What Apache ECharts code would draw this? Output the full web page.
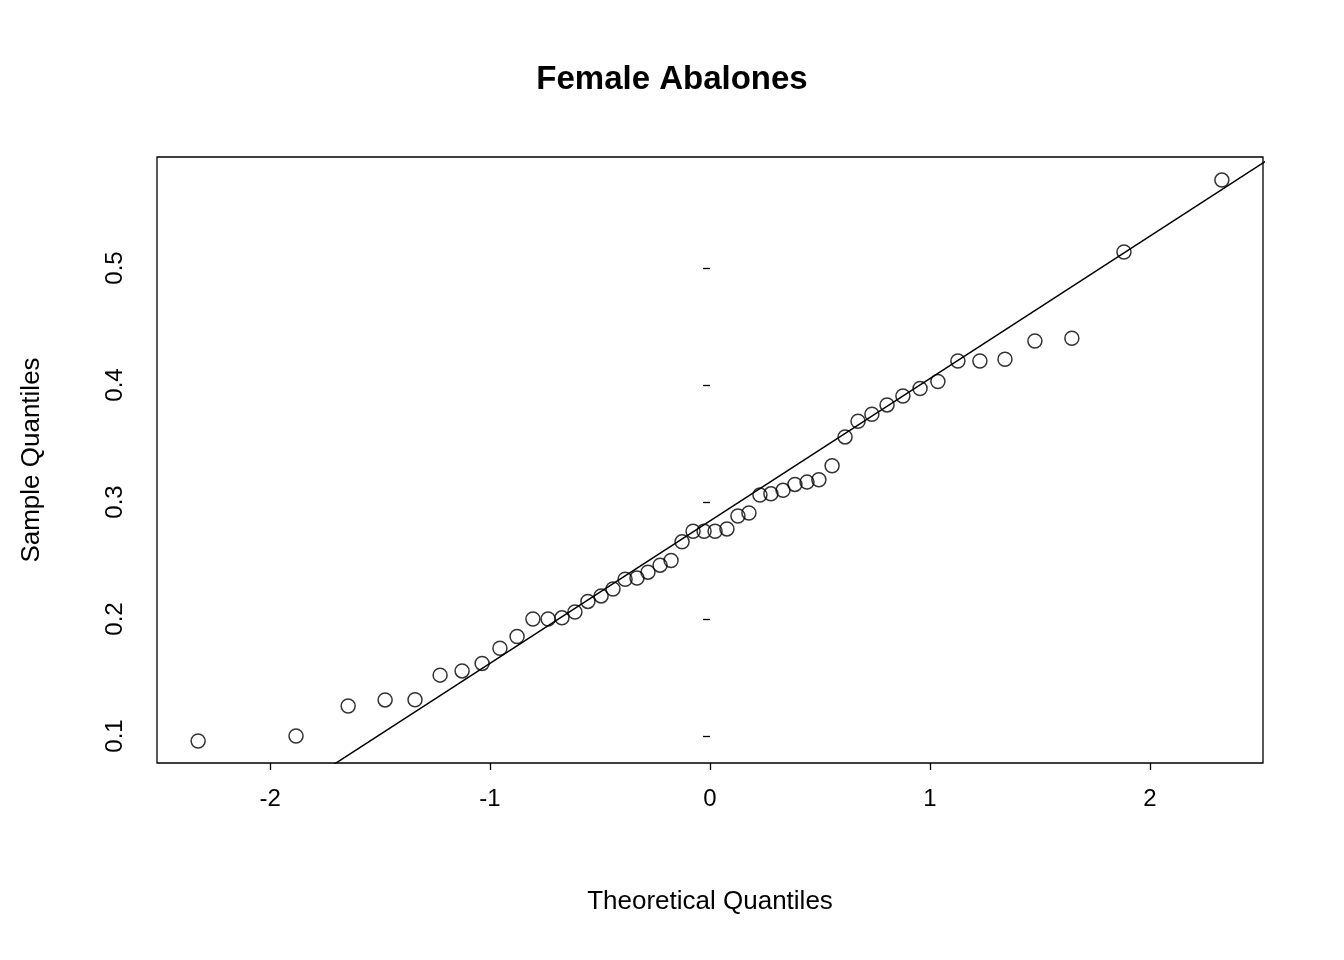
<!DOCTYPE html>
<html><head><meta charset="utf-8">
<script src="https://cdn.jsdelivr.net/npm/echarts@6/dist/echarts.min.js"></script>
<style>html,body{margin:0;padding:0;background:#fff}#c{width:1344px;height:960px}</style>
</head><body><div id="c"></div>
<script>
const theoretical = [-2.327,-1.882,-1.645,-1.477,-1.341,-1.227,-1.127,-1.036,-0.955,-0.877,-0.805,-0.736,-0.673,-0.614,-0.555,-0.495,-0.441,-0.386,-0.332,-0.282,-0.227,-0.177,-0.127,-0.077,-0.027,0.023,0.077,0.127,0.177,0.227,0.277,0.332,0.386,0.441,0.495,0.555,0.614,0.673,0.736,0.805,0.877,0.955,1.036,1.127,1.227,1.341,1.477,1.645,1.882,2.327];
const sample = [0.0957,0.100,0.1256,0.1308,0.131,0.152,0.1556,0.162,0.175,0.185,0.200,0.200,0.201,0.206,0.215,0.2197,0.2256,0.234,0.235,0.240,0.246,0.250,0.266,0.275,0.275,0.275,0.277,0.288,0.2906,0.306,0.307,0.310,0.315,0.317,0.319,0.331,0.3556,0.369,0.375,0.383,0.3906,0.397,0.403,0.4205,0.4205,0.422,0.4376,0.440,0.5137,0.5752];
const qqLine = [[-3, 0.2838 - 3*0.1217], [3, 0.2838 + 3*0.1217]];
const xTicks = [-2,-1,0,1,2];
const yTicks = [0.1,0.2,0.3,0.4,0.5];
const F = 'Liberation Sans, Arial, sans-serif';
const chart = echarts.init(document.getElementById('c'));
chart.setOption({
  animation:false,
  title:{text:'Female Abalones',left:'center',top:58,textStyle:{fontFamily:F,fontSize:33,fontWeight:'bold',color:'#000'}},
  grid:{left:157,right:81,top:157,bottom:197,show:true,borderColor:'#000',borderWidth:1.3,backgroundColor:'transparent'},
  xAxis:{type:'value',min:-2.514,max:2.514,
    name:'Theoretical Quantiles',nameLocation:'middle',nameGap:126,nameTextStyle:{fontFamily:F,fontSize:26,color:'#000'},
    axisLine:{show:false},splitLine:{show:false},
    axisTick:{show:true,length:7,lineStyle:{color:'#000',width:1.3},customValues:xTicks},
    axisLabel:{fontFamily:F,fontSize:24,color:'#000',margin:24,customValues:xTicks,formatter:v=>String(v)}},
  yAxis:{type:'value',min:0.0769,max:0.5949,
    name:'Sample Quantiles',nameLocation:'middle',nameGap:112,nameRotate:90,nameTextStyle:{fontFamily:F,fontSize:26,color:'#000'},
    axisLine:{show:false},splitLine:{show:false},
    axisTick:{show:true,length:7,lineStyle:{color:'#000',width:1.3},customValues:yTicks},
    axisLabel:{fontFamily:F,fontSize:24,color:'#000',rotate:90,margin:30,customValues:yTicks,formatter:v=>v.toFixed(1)}},
  series:[
    {type:'scatter',data:theoretical.map((x,i)=>[x,sample[i]]),symbol:'circle',symbolSize:14,
     itemStyle:{color:'transparent',borderColor:'#000',borderWidth:1.5}},
    {type:'line',data:qqLine,symbol:'none',clip:true,lineStyle:{color:'#000',width:1.5}}
  ]
});
</script></body></html>
